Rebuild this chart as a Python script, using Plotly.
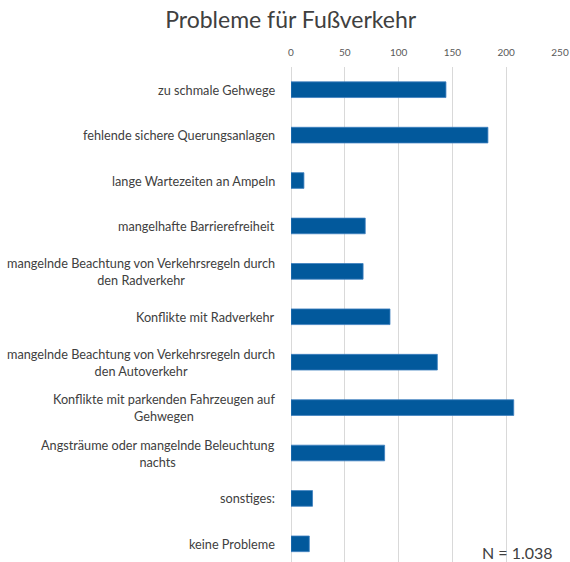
import plotly.graph_objects as go

categories = [
    "zu schmale Gehwege",
    "fehlende sichere Querungsanlagen",
    "lange Wartezeiten an Ampeln",
    "mangelhafte Barrierefreiheit",
    "mangelnde Beachtung von Verkehrsregeln durch<br>den Radverkehr",
    "Konflikte mit Radverkehr",
    "mangelnde Beachtung von Verkehrsregeln durch<br>den Autoverkehr",
    "Konflikte mit parkenden Fahrzeugen auf<br>Gehwegen",
    "Angsträume oder mangelnde Beleuchtung<br>nachts",
    "sonstiges:",
    "keine Probleme",
]
values = [144, 183, 12, 69, 67, 92, 136, 207, 87, 20, 17]
tick_vals = [0, 50, 100, 150, 200, 250]
title_text = "Probleme für Fußverkehr"
note_text = "N = 1.038"

idx = list(range(len(categories)))

fig = go.Figure()
fig.add_trace(go.Bar(
    x=values, y=idx, orientation="h",
    marker=dict(color="#02599C", line=dict(color="#3C7FBF", width=0.8)),
    hoverinfo="x",
))

for i, c in zip(idx, categories):
    fig.add_annotation(
        x=-0.052, xref="paper", y=i, yref="y", text=c, showarrow=False,
        xanchor="right", yanchor="middle", align="center",
        font=dict(family="Lato", size=12.7, color="#404040"),
    )

fig.add_annotation(
    x=0.98, xref="paper", y=10.19, yref="y", text=note_text, showarrow=False,
    xanchor="right", yanchor="middle",
    font=dict(family="Lato", size=16, color="#404040"),
)

fig.update_layout(
    width=570, height=562,
    margin=dict(l=291, r=10, t=67, b=0),
    paper_bgcolor="white", plot_bgcolor="white",
    bargap=0.655,
    showlegend=False,
    title=dict(text=title_text, x=0.51, xanchor="center", y=0.9644, yanchor="middle",
               font=dict(family="Lato", size=23, color="#404040")),
    xaxis=dict(side="top", range=[0, 250], tickvals=tick_vals, showgrid=True,
               gridcolor="#D9D9D9", gridwidth=1, zeroline=True, zerolinecolor="#D9D9D9",
               zerolinewidth=1, showline=False, ticks="", ticklabelstandoff=8,
               ticklabeloverflow="allow",
               tickfont=dict(family="Lato", size=10, color="#595959")),
    yaxis=dict(range=[10.4, -0.5], showticklabels=False, showgrid=False,
               zeroline=False, showline=False, ticks=""),
    font=dict(family="Lato"),
)

fig.write_html(
    "out.html",
    config={"displayModeBar": False},
    post_script="document.body.style.margin='0';document.body.style.overflow='hidden';",
)
